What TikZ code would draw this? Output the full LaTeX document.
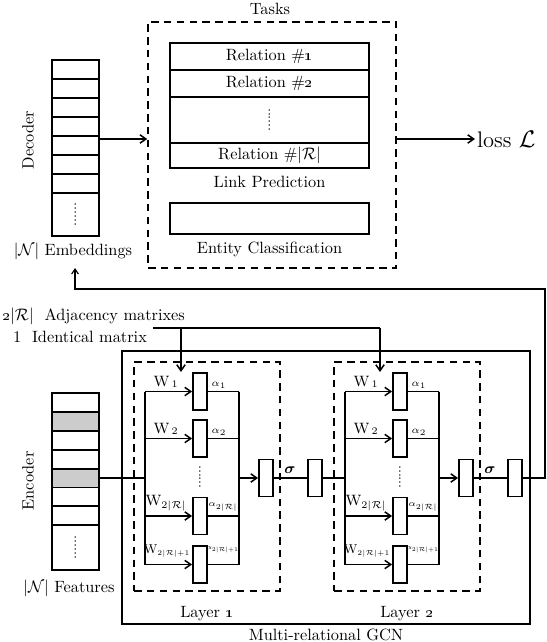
\documentclass[tikz,border=0pt]{standalone}
\usepackage{amsmath}
\usetikzlibrary{arrows.meta}
\tikzset{
  cellbox/.style 2 args={draw, line width=1.1pt, inner sep=0pt, minimum width=#1*0.6pt, minimum height=#2*0.6pt},
  dsh/.style={draw, line width=0.9pt, dash pattern=on 4.5pt off 3.2pt},
  conn/.style={line width=0.9pt},
  arr/.style={line width=0.9pt, -{Straight Barb[length=3.6pt,width=5pt]}},
  txt/.style={font=\fontsize{9.8}{11}\selectfont, inner sep=1pt},
  wlab/.style={font=\fontsize{8.8}{10}\selectfont, inner sep=0pt},
  alab/.style={font=\fontsize{6.2}{7}\selectfont, inner sep=0pt},
  vdots/.style={rotate=90, font=\fontsize{8}{8}\selectfont, inner sep=0pt}
}
\begin{document}
\begin{tikzpicture}[x=0.6pt,y=-0.6pt]
\useasboundingbox (0,0) rectangle (546,642);

% ---------------- Tasks ----------------
\node[txt] (taskslab) at (270,9) {Tasks};
\node[dsh, inner sep=0pt, minimum width=248*0.6pt, minimum height=246*0.6pt] (tasks) at (272,145) {};
\node[cellbox={199}{27}, txt] (rel1) at (269.5,56.5) {Relation \#\oldstylenums{1}};
\node[cellbox={199}{27}, txt] (rel2) at (269.5,83.5) {Relation \#\oldstylenums{2}};
\node[cellbox={199}{46}] (rel3) at (269.5,120) {};
\node[vdots] (reldots) at (rel3) {......};
\node[cellbox={199}{25}, txt] (rel4) at (269.5,155.5) {Relation \#$|\mathcal{R}|$};
\node[txt] (lplab) at (269.5,182) {Link Prediction};
\node[cellbox={199}{31}] (ent) at (269.5,218.5) {};
\node[txt] (eclab) at (269.5,249) {Entity Classification};

% loss
\coordinate (yarr) at (0,139);
\node[anchor=west, inner sep=1pt, font=\fontsize{13.5}{15}\selectfont] (loss) at (475,139) {loss $\mathcal{L}$};
\draw[arr] (tasks.east |- yarr) -- (loss.west);

% ---------------- Decoder ----------------
\foreach \i in {0,...,6} {
  \node[cellbox={47}{19}] (d\i) at (75.5,{69.5+19*\i}) {};
}
\node[cellbox={47}{43}] (d7) at (75.5,214.5) {};
\node[vdots] (ddots) at (d7) {......};
\node[txt, rotate=90] (declab) at (28,140) {Decoder};
\node[txt] (emb) at (73,251) {$|\mathcal{N}|$ Embeddings};
\draw[arr] (d4.east |- yarr) -- (tasks.west |- yarr);

% ---------------- Encoder ----------------
\foreach \i/\f in {0/white,1/black!20,2/white,3/white,4/black!20,5/white,6/white} {
  \node[cellbox={47}{18.9}, fill=\f] (e\i) at (75.5,{402.45+18.9*\i}) {};
}
\node[cellbox={47}{45}] (e7) at (75.5,547.5) {};
\node[vdots] (edots) at (e7) {......};
\node[txt, rotate=90] (enclab) at (28,481) {Encoder};
\node[txt] (feat) at (69,588) {$|\mathcal{N}|$ Features};

% ---------------- adjacency inputs ----------------
\node[txt, anchor=west] (adjtxt) at (0,316) {\oldstylenums{2}$|\mathcal{R}|$\ \ Adjacency matrixes};
\node[txt, anchor=west] (idtxt) at (11,337) {1\ \ Identical matrix};

% ---------------- GCN box ----------------
\node[draw, line width=0.9pt, inner sep=0pt, minimum width=408*0.6pt, minimum height=273*0.6pt] (gcn) at (326,487.5) {};
\node[txt] (gcnlab) at (326,635) {Multi-relational GCN};

% ---------------- Layers ----------------
\foreach \L/\ox in {1/0,2/200} {
  \node[dsh, inner sep=0pt, minimum width=146*0.6pt, minimum height=229*0.6pt] (L\L) at (207+\ox,476.5) {};
  \node[txt] (lab\L) at (207+\ox,614) {Layer \oldstylenums{\L}};
  \foreach \k/\yy in {1/391.5,2/438.5,3/516,4/564.5} {
    \node[cellbox={14}{37}] (r\L\k) at (200+\ox,\yy) {};
  }
  \coordinate (bt\L) at (145+\ox,391.5);
  \coordinate (bb\L) at (145+\ox,564.5);
  \coordinate (rt\L) at (239+\ox,391.5);
  \coordinate (rb\L) at (239+\ox,564.5);
  \draw[conn] (bt\L) -- (bb\L);
  \draw[conn] (rt\L) -- (rb\L);
  \foreach \k in {1,2,3,4} {
    \draw[arr] (r\L\k.west -| bt\L) -- (r\L\k.west);
    \draw[conn] (r\L\k.east) -- (r\L\k.east -| rt\L);
  }
  \node[vdots] (mdots\L) at (200+\ox,477) {......};
  \node[cellbox={14}{37}] (o\L) at (266+\ox,478) {};
  \node[cellbox={14}{37}] (s\L) at (315+\ox,478) {};
  \draw[arr] (o\L.west -| rt\L) -- (o\L.west);
  \draw[conn] (o\L.east) -- (s\L.west);
  \node[font=\fontsize{9}{10}\selectfont, inner sep=0pt] (sig\L) at (290+\ox,470) {$\boldsymbol{\sigma}$};
  % labels
  \node[wlab] (w\L1) at (166+\ox,382) {$\mathrm{W}_{\,1}$};
  \node[wlab] (w\L2) at (166+\ox,429) {$\mathrm{W}_{\,2}$};
  \node[wlab] (w\L3) at (166+\ox,503) {$\mathrm{W}_{2|\mathcal{R}|}$};
  \node[wlab, scale=0.85] (w\L4) at (167+\ox,551) {$\mathrm{W}_{\scriptscriptstyle 2|\mathcal{R}|{+}1}$};
  \node[alab] (a\L1) at (219+\ox,385) {$\alpha_{1}$};
  \node[alab] (a\L2) at (219+\ox,432) {$\alpha_{2}$};
  \node[alab, scale=0.9] (a\L3) at (223+\ox,507) {$\alpha_{\scriptscriptstyle 2|\mathcal{R}|}$};
  \node[alab, scale=0.7] (a\L4) at (222.5+\ox,550) {$\alpha_{\scriptscriptstyle 2|\mathcal{R}|{+}1}$};
}

% encoder -> layer 1
\draw[conn] (e4.east) -- (e4.east -| bt1);
% layer 1 -> layer 2
\draw[conn] (s1.east) -- (s1.east -| bt2);

% adjacency arrows
\coordinate (adjS) at (153,328);
\coordinate (adjA) at (181,328);
\coordinate (adjB) at (380,328);
\coordinate (tipA) at (181,372);
\coordinate (tipB) at (380,372);
\draw[conn] (adjS) -- (adjB);
\draw[arr] (adjA) -- (tipA);
\draw[arr] (adjB) -- (tipB);

% feedback to embeddings
\coordinate (fbR) at (545,289);
\coordinate (fbL) at (75,289);
\coordinate (embtip) at (75,268);
\draw[line width=0.7pt, -{Straight Barb[length=3pt,width=4pt]}] (s2.east) -- (s2.east -| fbR) -- (fbR) -- (fbL) -- (embtip);
\end{tikzpicture}
\end{document}
